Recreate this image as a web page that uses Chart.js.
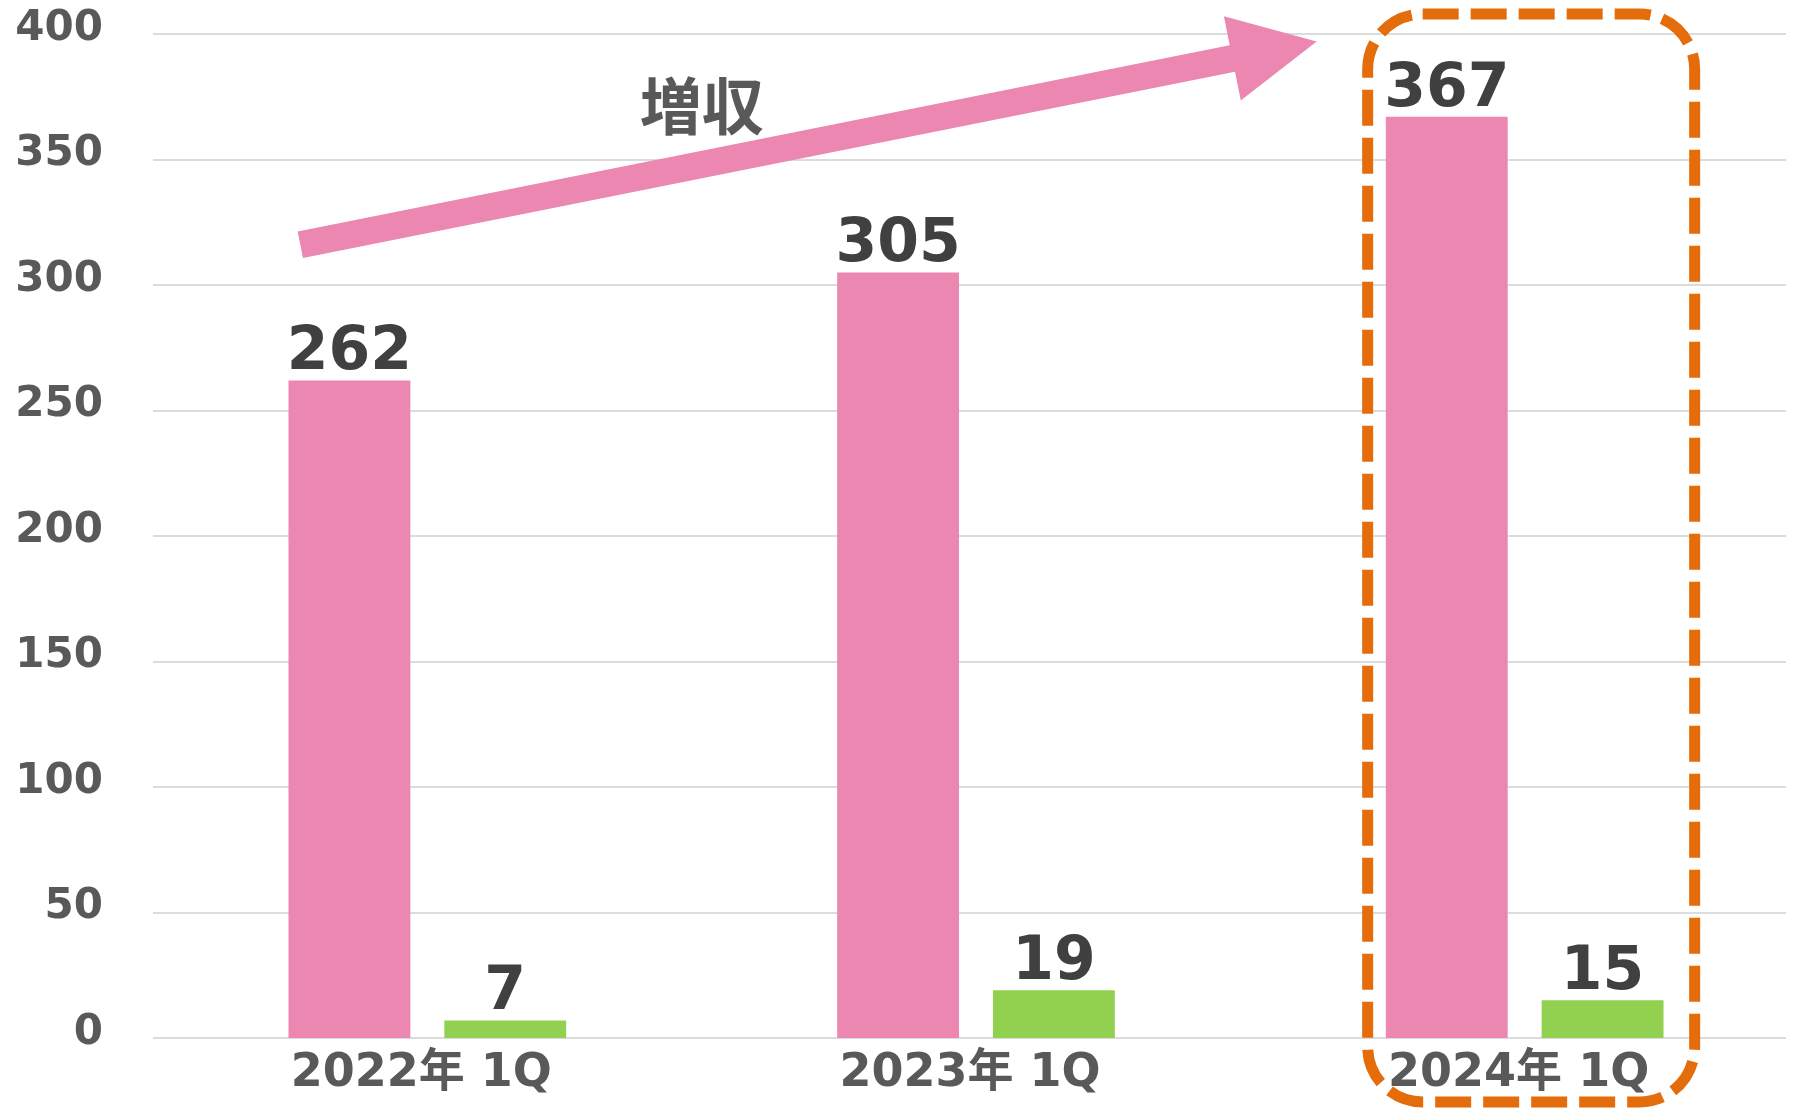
<!DOCTYPE html>
<html>
<head>
<meta charset="utf-8">
<script src="https://cdn.jsdelivr.net/npm/chart.js@4/dist/chart.umd.min.js"></script>
<style>
html,body{margin:0;padding:0;background:#fff;overflow:hidden;}
canvas{display:block;}
</style>
</head>
<body>
<canvas id="c" width="1799" height="1109"></canvas>
<script>
const categories = ['2022年 1Q', '2023年 1Q', '2024年 1Q'];
const salesValues = [262, 305, 367];
const profitValues = [7, 19, 15];
const yTicks = [0, 50, 100, 150, 200, 250, 300, 350, 400];
const arrowText = '増収';

const PINK = '#EB87B1';
const GREEN = '#92D050';
const ORANGE = '#E46C0A';
const GRID = '#DCDCDC';
const TICK = '#595959';
const LABEL = '#404040';
const LATIN = "'DejaVu Sans', 'Noto Sans CJK JP', sans-serif";
const CJK = "'Noto Sans CJK JP', sans-serif";

const gridPlugin = {
  id: 'grid',
  beforeDatasetsDraw(chart) {
    const { ctx, chartArea, scales } = chart;
    ctx.save();
    ctx.strokeStyle = GRID;
    ctx.lineWidth = 2;
    yTicks.forEach(v => {
      const y = Math.round(scales.y.getPixelForValue(v));
      ctx.beginPath();
      ctx.moveTo(chartArea.left, y);
      ctx.lineTo(chartArea.right - 13, y);
      ctx.stroke();
    });
    ctx.restore();
  }
};

const labelPlugin = {
  id: 'labels',
  afterDatasetsDraw(chart) {
    const { ctx } = chart;
    ctx.save();
    ctx.fillStyle = LABEL;
    ctx.font = 'bold 60px ' + LATIN;
    ctx.textAlign = 'center';
    ctx.textBaseline = 'alphabetic';
    chart.data.datasets.forEach((ds, di) => {
      const meta = chart.getDatasetMeta(di);
      meta.data.forEach((bar, i) => {
        ctx.fillText(String(ds.data[i]), bar.x, bar.y - 11);
      });
    });
    ctx.restore();
  }
};

const decoPlugin = {
  id: 'deco',
  afterDraw(chart) {
    const { ctx, scales } = chart;
    const xs = scales.x, ys = scales.y;
    ctx.save();
    // arrow
    const tx = xs.getPixelForValue(0) - 127, ty = ys.getPixelForValue(316);
    const hx = xs.getPixelForValue(2) - 208, hy = ys.getPixelForValue(397);
    const ang = Math.atan2(hy - ty, hx - tx);
    const len = Math.hypot(hx - tx, hy - ty);
    ctx.translate(tx, ty);
    ctx.rotate(ang);
    const sw = 13.5, headL = 86, headW = 43;
    ctx.fillStyle = PINK;
    ctx.beginPath();
    ctx.moveTo(0, -sw);
    ctx.lineTo(len - headL, -sw);
    ctx.lineTo(len - headL, -headW);
    ctx.lineTo(len, 0);
    ctx.lineTo(len - headL, headW);
    ctx.lineTo(len - headL, sw);
    ctx.lineTo(0, sw);
    ctx.closePath();
    ctx.fill();
    ctx.setTransform(1, 0, 0, 1, 0, 0);
    // text
    ctx.fillStyle = TICK;
    ctx.font = 'bold 62px ' + CJK;
    ctx.textAlign = 'center';
    ctx.textBaseline = 'middle';
    ctx.fillText(arrowText, xs.getPixelForValue(0.5), ys.getPixelForValue(371));
    // dashed rounded rectangle
    const cx = xs.getPixelForValue(2);
    const l = cx - 157, r = cx + 170, t = ys.getPixelForValue(400) - 20, b = ys.getPixelForValue(0) + 64;
    ctx.strokeStyle = ORANGE;
    ctx.lineWidth = 11;
    ctx.setLineDash([36, 12]);
    ctx.beginPath();
    ctx.roundRect(l, t, r - l, b - t, 55);
    ctx.stroke();
    ctx.restore();
  }
};

new Chart(document.getElementById('c'), {
  type: 'bar',
  data: {
    labels: categories,
    datasets: [
      { label: '売上高', data: salesValues, backgroundColor: PINK, categoryPercentage: 0.568, barPercentage: 0.782 },
      { label: '営業利益', data: profitValues, backgroundColor: GREEN, categoryPercentage: 0.568, barPercentage: 0.782 }
    ]
  },
  options: {
    responsive: false,
    animation: false,
    devicePixelRatio: 1,
    layout: { padding: { top: 34, right: 0, left: 0, bottom: 0 } },
    plugins: { legend: { display: false }, tooltip: { enabled: false } },
    scales: {
      x: {
        grid: { display: false, drawTicks: false },
        border: { display: false },
        ticks: { color: TICK, font: { family: LATIN, size: 46, weight: 'bold', lineHeight: 0.1 }, padding: 34, maxRotation: 0, labelOffset: -6 },
        afterFit(s) { s.height = 71; }
      },
      y: {
        min: 0, max: 400,
        grid: { display: true, drawOnChartArea: false, drawTicks: true, tickLength: 50, color: 'rgba(0,0,0,0)', lineWidth: 0 },
        border: { display: false },
        afterBuildTicks(s) { s.ticks = yTicks.map(v => ({ value: v })); },
        ticks: { color: TICK, font: { family: LATIN, size: 42, weight: 'bold', lineHeight: 0.1 }, padding: 0, labelOffset: -5 },
        afterFit(s) { s.width = 153; }
      }
    }
  },
  plugins: [gridPlugin, labelPlugin, decoPlugin]
});
</script>
</body>
</html>
